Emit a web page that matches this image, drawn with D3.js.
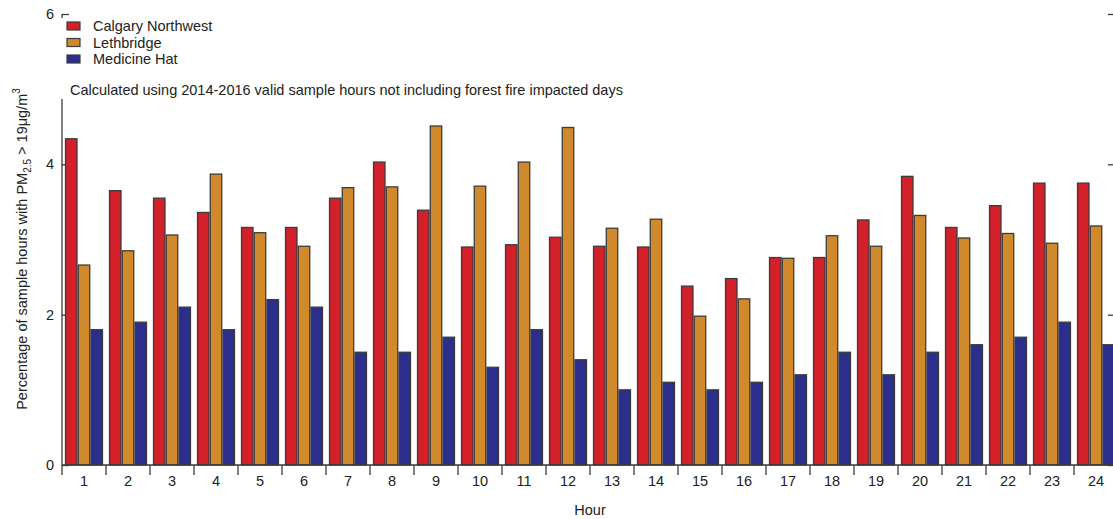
<!DOCTYPE html>
<html>
<head>
<meta charset="utf-8">
<script src="https://cdn.jsdelivr.net/npm/d3@7"></script>
<style>
  html, body { margin: 0; padding: 0; background: #fff; }
  svg { display: block; font-family: "Liberation Sans", Arial, Helvetica, sans-serif; }
</style>
</head>
<body>
<svg id="chart" width="1113" height="519"></svg>
<script>
// Hour of day (x categories)
const hours = ["1","2","3","4","5","6","7","8","9","10","11","12",
               "13","14","15","16","17","18","19","20","21","22","23","24"];
// Station names (series)
const stations = ["Calgary Northwest", "Lethbridge", "Medicine Hat"];
// Percentage of sample hours with PM2.5 > 19 µg/m3, per hour
const calgaryNorthwest = [4.34, 3.65, 3.55, 3.36, 3.16, 3.16, 3.55, 4.03, 3.39, 2.90, 2.93, 3.03,
                          2.91, 2.90, 2.38, 2.48, 2.76, 2.76, 3.26, 3.84, 3.16, 3.45, 3.75, 3.75];
const lethbridge       = [2.66, 2.85, 3.06, 3.87, 3.09, 2.91, 3.69, 3.70, 4.51, 3.71, 4.03, 4.49,
                          3.15, 3.27, 1.98, 2.21, 2.75, 3.05, 2.91, 3.32, 3.02, 3.08, 2.95, 3.18];
const medicineHat      = [1.8, 1.9, 2.1, 1.8, 2.2, 2.1, 1.5, 1.5, 1.7, 1.3, 1.8, 1.4,
                          1.0, 1.1, 1.0, 1.1, 1.2, 1.5, 1.2, 1.5, 1.6, 1.7, 1.9, 1.6];
const yTicks = [0, 2, 4, 6];
const note = "Calculated using 2014-2016 valid sample hours not including forest fire impacted days";

const seriesValues = [calgaryNorthwest, lethbridge, medicineHat];
const colors = ["#d3202a", "#d08a2b", "#2b2f8b"];
const strokeCol = "#3b3b3b";
const textCol = "#222";

const svg = d3.select("#chart");
const plotLeft = 62, plotRight = 1118, plotTop = 14, plotBottom = 465;

const x0 = d3.scaleBand().domain(hours).range([plotLeft, plotRight])
  .paddingInner(0.16).paddingOuter(0.08);
const x1 = d3.scaleBand().domain(stations).range([0, x0.bandwidth()]).paddingInner(0.1);
const y = d3.scaleLinear().domain([0, 6]).range([plotBottom, plotTop]);
const color = d3.scaleOrdinal().domain(stations).range(colors);

// y axis ticks (inward), drawn under the bars
const yAxis = svg.append("g").attr("transform", `translate(${plotLeft},0)`)
  .call(d3.axisLeft(y).tickValues(yTicks).tickFormat(d3.format("d")).tickSize(-7).tickPadding(8));
yAxis.select(".domain").remove();
yAxis.selectAll("line").attr("stroke", strokeCol).attr("stroke-width", 1.3);
yAxis.selectAll("text").attr("fill", textCol).style("font-size", "14.5px");

// mirrored ticks on the right side
const yAxisR = svg.append("g").attr("transform", `translate(${plotRight},0)`)
  .call(d3.axisRight(y).tickValues(yTicks).tickFormat("").tickSize(-10));
yAxisR.select(".domain").remove();
yAxisR.selectAll("line").attr("stroke", strokeCol).attr("stroke-width", 1.3);

// left axis line
svg.append("line").attr("x1", plotLeft).attr("x2", plotLeft)
  .attr("y1", y(6)).attr("y2", plotBottom)
  .attr("stroke", strokeCol).attr("stroke-width", 1.3);

// bars
const rows = hours.map((h, i) => ({ hour: h, values: stations.map((s, k) => ({ station: s, value: seriesValues[k][i] })) }));
const groups = svg.append("g").selectAll("g").data(rows).join("g")
  .attr("transform", d => `translate(${x0(d.hour)},0)`);
groups.selectAll("rect").data(d => d.values).join("rect")
  .attr("x", d => x1(d.station))
  .attr("width", x1.bandwidth())
  .attr("y", d => y(d.value))
  .attr("height", d => plotBottom - y(d.value))
  .attr("fill", d => color(d.station))
  .attr("stroke", strokeCol)
  .attr("stroke-width", 1.3);

// x axis: baseline, boundary ticks between hours, centred labels
svg.append("line").attr("x1", plotLeft).attr("x2", plotRight)
  .attr("y1", plotBottom).attr("y2", plotBottom)
  .attr("stroke", strokeCol).attr("stroke-width", 1.3);
const boundaries = d3.range(hours.length + 1).map(i => x0.range()[0] + i * x0.step());
svg.append("g").selectAll("line").data(boundaries).join("line")
  .attr("x1", d => d).attr("x2", d => d)
  .attr("y1", plotBottom).attr("y2", plotBottom + 10)
  .attr("stroke", strokeCol).attr("stroke-width", 1.3);
const xAxis = svg.append("g").attr("transform", `translate(0,${plotBottom})`)
  .call(d3.axisBottom(x0).tickSize(0).tickPadding(11));
xAxis.select(".domain").remove();
xAxis.selectAll("text").attr("fill", textCol).style("font-size", "14.5px");

// axis titles
svg.append("text").attr("x", (plotLeft + plotRight) / 2).attr("y", 515)
  .attr("text-anchor", "middle").attr("fill", textCol).style("font-size", "14.5px")
  .text("Hour");

const yTitle = svg.append("text")
  .attr("transform", "translate(27,249) rotate(-90)")
  .attr("text-anchor", "middle").attr("fill", textCol).style("font-size", "14.5px");
yTitle.append("tspan").text("Percentage of sample hours with PM");
yTitle.append("tspan").attr("dy", 4).style("font-size", "10px").text("2.5");
yTitle.append("tspan").attr("dy", -4).text(" > 19μg/m");
yTitle.append("tspan").attr("dy", -7).style("font-size", "10px").text("3");

// legend and note sit on a white panel over the top of the axis
svg.append("rect").attr("x", 56).attr("y", 18).attr("width", 590).attr("height", 81).attr("fill", "#fff");
const legend = svg.append("g");
stations.forEach((s, k) => {
  const cy = 26 + k * 16.5;
  legend.append("rect").attr("x", 67).attr("y", cy - 4).attr("width", 13).attr("height", 8)
    .attr("fill", color(s)).attr("stroke", strokeCol).attr("stroke-width", 1.2);
  legend.append("text").attr("x", 93).attr("y", cy + 5).attr("fill", textCol)
    .style("font-size", "14.5px").text(s);
});
svg.append("text").attr("x", 70).attr("y", 95).attr("fill", textCol)
  .style("font-size", "14.5px").text(note);
</script>
</body>
</html>
